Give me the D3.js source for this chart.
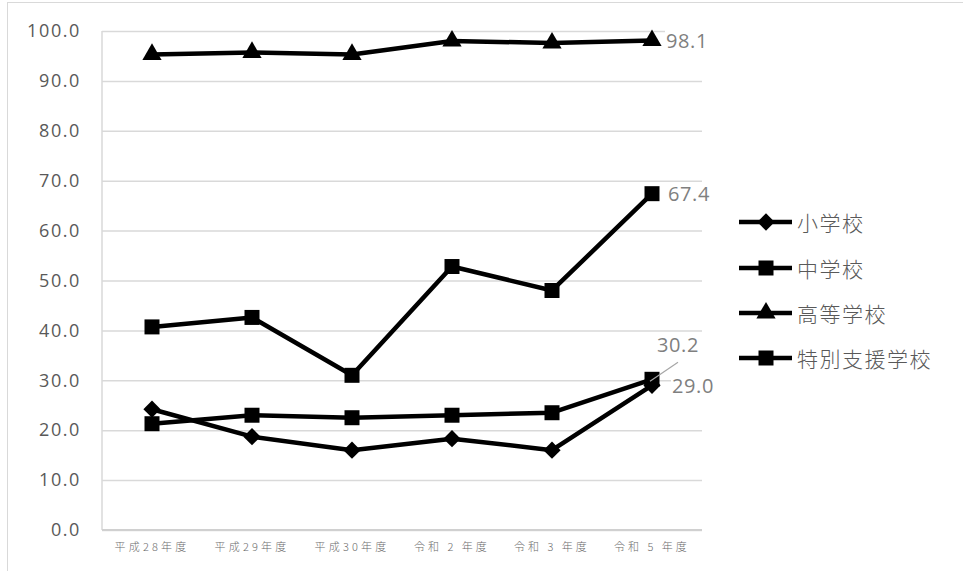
<!DOCTYPE html>
<html>
<head>
<meta charset="utf-8">
<script src="https://cdn.jsdelivr.net/npm/d3@7/dist/d3.min.js"></script>
<style>
  html, body { margin: 0; padding: 0; background: #fff; }
  svg { display: block; }
</style>
</head>
<body>
<svg id="chart" width="963" height="571"></svg>
<script>
// Fiscal years on the category axis
const categories = ["平成28年度", "平成29年度", "平成30年度", "令和 2 年度", "令和 3 年度", "令和 5 年度"];

// Rates (%) per school type
const seriesNames = ["小学校", "中学校", "高等学校", "特別支援学校"];
const elementary = [24.2, 18.7, 16.0, 18.3, 16.0, 29.0];
const juniorHigh = [21.3, 23.0, 22.5, 23.0, 23.5, 30.2];
const highSchool = [95.3, 95.7, 95.3, 98.0, 97.6, 98.1];
const special    = [40.7, 42.6, 31.0, 52.8, 48.0, 67.4];

const yTicks = [0, 10, 20, 30, 40, 50, 60, 70, 80, 90, 100];

const series = [
  { name: seriesNames[0], values: elementary, marker: "diamond" },
  { name: seriesNames[1], values: juniorHigh, marker: "square" },
  { name: seriesNames[2], values: highSchool, marker: "triangle" },
  { name: seriesNames[3], values: special,    marker: "square" }
];

const svg = d3.select("#chart");
const plot = { left: 102, right: 702, top: 31, bottom: 530 };

// chart frame
svg.append("rect")
  .attr("x", 7.5).attr("y", 2.5)
  .attr("width", 960).attr("height", 600)
  .attr("fill", "#fff").attr("stroke", "#d9d9d9").attr("stroke-width", 1);

const x = d3.scaleBand().domain(categories).range([plot.left, plot.right]);
const cx = c => x(c) + x.bandwidth() / 2;
const y = d3.scaleLinear().domain([0, 100]).range([plot.bottom, plot.top]);

// horizontal gridlines
const grid = svg.append("g")
  .attr("transform", `translate(${plot.left},0)`)
  .call(d3.axisLeft(y).tickValues(yTicks).tickSize(-(plot.right - plot.left)).tickFormat(""));
grid.select(".domain").remove();
grid.selectAll("line").attr("stroke", "#d9d9d9").attr("stroke-width", 1.5);

// left axis line
svg.append("line")
  .attr("x1", plot.left).attr("x2", plot.left)
  .attr("y1", y(100)).attr("y2", y(0))
  .attr("stroke", "#d9d9d9").attr("stroke-width", 1.5);

// bottom axis line
svg.append("line")
  .attr("x1", plot.left).attr("x2", plot.right)
  .attr("y1", y(0)).attr("y2", y(0))
  .attr("stroke", "#d0d0d0").attr("stroke-width", 2);

// y tick labels
const yAxis = svg.append("g")
  .attr("transform", `translate(${plot.left},0)`)
  .call(d3.axisLeft(y).tickValues(yTicks).tickSize(0).tickPadding(21).tickFormat(d3.format(".1f")));
yAxis.select(".domain").remove();
yAxis.selectAll("text")
  .attr("fill", "#595959")
  .style("font-family", "'Open Sans', sans-serif")
  .style("font-size", "18px")
  .style("letter-spacing", "1.6px");

// x tick labels
const xAxis = svg.append("g")
  .attr("transform", `translate(0,${plot.bottom})`)
  .call(d3.axisBottom(x).tickSize(0).tickPadding(13));
xAxis.select(".domain").remove();
xAxis.selectAll("text")
  .attr("fill", "#6b6b6b")
  .style("font-family", "'Noto Sans CJK JP', sans-serif")
  .style("font-weight", "300")
  .style("font-size", "11px")
  .style("letter-spacing", "3.2px")
  .style("word-spacing", "-0.5px");

// marker shapes
const markerPath = {
  diamond: d3.symbol().type(d3.symbolDiamond2).size(190)(),
  square: d3.symbol().type(d3.symbolSquare).size(225)(),
  triangle: d3.symbol().type(d3.symbolTriangle).size(160)()
};

const line = d3.line().x((d, i) => cx(categories[i])).y(d => y(d));

series.forEach(s => {
  const g = svg.append("g");
  g.append("path")
    .attr("d", line(s.values))
    .attr("fill", "none").attr("stroke", "#000")
    .attr("stroke-width", 4.5).attr("stroke-linejoin", "round");
  g.selectAll("path.m").data(s.values).join("path")
    .attr("class", "m")
    .attr("d", markerPath[s.marker])
    .attr("transform", (d, i) => `translate(${cx(categories[i])},${y(d)})`)
    .attr("fill", "#000");
});

// value labels at the last year
const last = categories.length - 1;
const labels = svg.append("g");

function addLabel(value, dx, dy, leader) {
  const px = cx(categories[last]), py = y(value);
  const lx = px + dx, ly = py + dy;
  if (leader) {
    labels.append("line")
      .attr("x1", px - 2).attr("y1", py + 2)
      .attr("x2", lx + 21).attr("y2", ly + 18)
      .attr("stroke", "#a6a6a6").attr("stroke-width", 1.2);
  }
  const g = labels.append("g");
  const bg = g.append("rect").attr("fill", "#fff");
  const t = g.append("text")
    .attr("x", lx).attr("y", ly)
    .attr("dominant-baseline", "central")
    .attr("fill", "#7f7f7f")
    .style("font-family", "'Open Sans', sans-serif")
    .style("font-size", "20px")
    .style("letter-spacing", "0.6px")
    .text(d3.format(".1f")(value));
  const bb = t.node().getBBox();
  bg.attr("x", bb.x - 1).attr("y", bb.y + 3)
    .attr("width", bb.width + 2).attr("height", bb.height - 6);
}
addLabel(highSchool[last], 14, 0, false);
addLabel(special[last], 16, 0, false);
addLabel(juniorHigh[last], 5, -35, true);
addLabel(elementary[last], 20, 0, false);

// legend
const legend = svg.append("g");
const legendY = [222, 268, 313, 358];
series.forEach((s, i) => {
  const g = legend.append("g").attr("transform", `translate(0,${legendY[i]})`);
  g.append("line")
    .attr("x1", 739).attr("x2", 792).attr("y1", 0).attr("y2", 0)
    .attr("stroke", "#000").attr("stroke-width", 4.5);
  g.append("path")
    .attr("d", markerPath[s.marker])
    .attr("transform", "translate(766,0)")
    .attr("fill", "#000");
  g.append("text")
    .attr("x", 797).attr("y", 0)
    .attr("dominant-baseline", "central")
    .attr("fill", "#595959")
    .style("font-family", "'Noto Sans CJK JP', sans-serif")
    .style("font-weight", "300")
    .style("font-size", "21px")
    .style("letter-spacing", "1.5px")
    .text(s.name);
});
</script>
</body>
</html>
